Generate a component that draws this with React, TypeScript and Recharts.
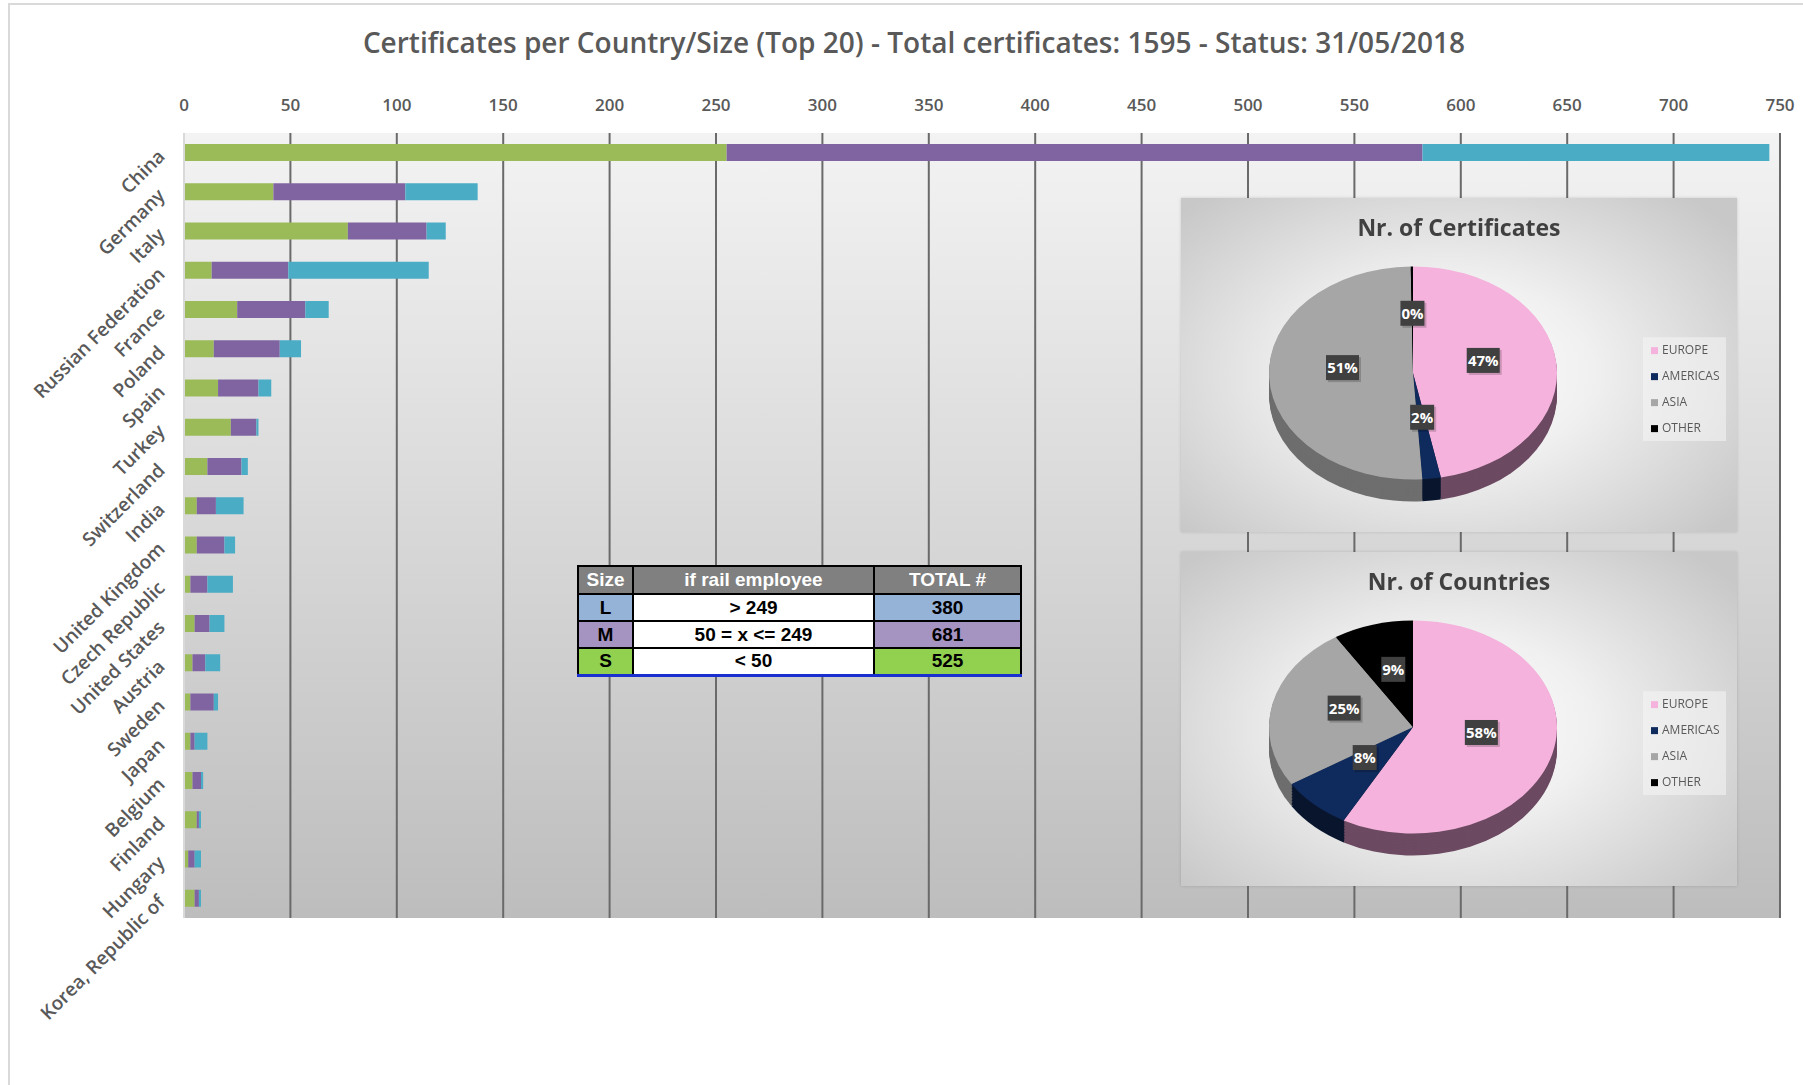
import React from 'react';
import { BarChart, Bar, XAxis, YAxis, CartesianGrid, PieChart, Pie, Cell, Legend } from 'recharts';

// ---------- data ----------
const countries = ['China', 'Germany', 'Italy', 'Russian Federation', 'France', 'Poland', 'Spain', 'Turkey', 'Switzerland', 'India', 'United Kingdom', 'Czech Republic', 'United States', 'Austria', 'Sweden', 'Japan', 'Belgium', 'Finland', 'Hungary', 'Korea, Republic of'];
const sizeS = [255, 42, 77, 13, 25, 14, 16, 22, 11, 6, 6, 3, 5, 4, 3, 3, 4, 6, 2, 5];
const sizeM = [327, 62, 37, 36, 32, 31, 19, 12, 16, 9, 13, 8, 7, 6, 11, 2, 4, 1, 3, 2];
const sizeL = [163, 34, 9, 66, 11, 10, 6, 1, 3, 13, 5, 12, 7, 7, 2, 6, 1, 1, 3, 1];
const xTicks = [0, 50, 100, 150, 200, 250, 300, 350, 400, 450, 500, 550, 600, 650, 700, 750];

const tableSizes = ['L', 'M', 'S'];
const tableRules = ['> 249', '50 = x <= 249', '< 50'];
const tableTotals = [380, 681, 525];

const regions = ['EUROPE', 'AMERICAS', 'ASIA', 'OTHER'];
const certificatesByRegion = [748, 33, 810, 4];
const countriesByRegion = [58, 8, 25, 9];

const TITLE = 'Certificates per Country/Size (Top 20) - Total certificates: 1595 - Status: 31/05/2018';

// ---------- styles ----------
const FONT = '"Open Sans", "DejaVu Sans", sans-serif';
const GREEN = '#9BBB59';
const PURPLE = '#8064A2';
const BLUE = '#4BACC6';
const REGION_TOP = ['#F4B2DC', '#0F2A5C', '#A6A6A6', '#000000'];
const REGION_SIDE = ['#6C4A62', '#09162E', '#6E6E6E', '#000000'];

const chartData = countries.map((name, i) => ({ name, S: sizeS[i], M: sizeM[i], L: sizeL[i] }));

const XTick = (props: any) => {
  const { x, payload } = props;
  return (
    <text x={x} y={111} textAnchor="middle" fontSize={17} fontWeight={600} fill="#595959" fontFamily={FONT}>
      {payload.value}
    </text>
  );
};

const YTick = (props: any) => {
  const { y, payload } = props;
  const ax = 166;
  const ay = y + 5;
  return (
    <text x={ax} y={ay} transform={`rotate(-45 ${ax} ${ay})`} textAnchor="end" fontSize={19} fontWeight={600} fill="#595959" fontFamily={FONT}>
      {payload.value}
    </text>
  );
};

const K = 0.74;
const RAD = Math.PI / 180;

const renderPieLabel = (p: any) => {
  const r = p.outerRadius * 0.49;
  const x = p.cx + r * Math.cos(-p.midAngle * RAD);
  const y = p.cy + r * Math.sin(-p.midAngle * RAD) - 8 / K;
  const txt = `${Math.round(p.percent * 100)}%`;
  const w = txt.length * 9 + 6;
  return (
    <g transform={`translate(${x},${y}) scale(1,${1 / K})`}>
      <rect x={-w / 2 + 2} y={-12 + 2} width={w} height={25} fill="rgba(0,0,0,0.18)" />
      <rect x={-w / 2} y={-12} width={w} height={25} fill="#404040" />
      <text x={0} y={0.5} dy="0.36em" textAnchor="middle" fill="#ffffff" fontSize={15} fontWeight={700} fontFamily={FONT}>
        {txt}
      </text>
    </g>
  );
};

const LegendBox = () => (
  <div style={{ transform: `scaleY(${1 / K})`, transformOrigin: '0 0', width: 83, height: 104, background: 'rgba(246,246,246,0.55)', fontFamily: FONT }}>
    {regions.map((name, idx) => (
      <div key={name} style={{ height: 26, display: 'flex', alignItems: 'center', paddingLeft: 8 }}>
        <span style={{ display: 'inline-block', width: 7, height: 7, background: REGION_TOP[idx], marginRight: 4 }} />
        <span style={{ fontSize: 12, color: '#595959', lineHeight: '12px' }}>{name}</span>
      </div>
    ))}
  </div>
);

function PiePanel({ top, title, values }: { top: number; title: string; values: number[] }) {
  const W = 556;
  const H = 334;
  const CH = Math.round(H / K);
  const cx = 232;
  const cy = 175 / K;
  const R = 144;
  const thick = 22 / K;
  const data = regions.map((name, i) => ({ name, value: values[i] }));
  const layers: number[] = [];
  for (let d = thick; d > 0; d -= 2) layers.push(d);
  return (
    <div
      style={{
        position: 'absolute',
        left: 1181,
        top,
        width: W,
        height: H,
        overflow: 'hidden',
        background: 'radial-gradient(ellipse 65% 70% at 48% 52%, #ffffff 0%, #f0f0f0 40%, #c8c8c8 100%)',
        boxShadow: '0 0 3px rgba(0,0,0,0.15)',
      }}
    >
      <div style={{ position: 'absolute', left: 0, top: 0, width: W, height: CH, transform: `scaleY(${K})`, transformOrigin: '0 0' }}>
        <PieChart width={W} height={CH} margin={{ top: 0, right: 0, bottom: 0, left: 0 }}>
          {layers.map((d) => (
            <Pie
              key={`side${d}`}
              data={data}
              dataKey="value"
              nameKey="name"
              cx={cx}
              cy={cy + d}
              outerRadius={R}
              startAngle={90}
              endAngle={-270}
              stroke="none"
              legendType="none"
              isAnimationActive={false}
            >
              {data.map((e, i) => (
                <Cell key={e.name} fill={REGION_SIDE[i]} />
              ))}
            </Pie>
          ))}
          <Pie
            data={data}
            dataKey="value"
            nameKey="name"
            cx={cx}
            cy={cy}
            outerRadius={R}
            startAngle={90}
            endAngle={-270}
            stroke="none"
            label={renderPieLabel}
            labelLine={false}
            legendType="square"
            isAnimationActive={false}
          >
            {data.map((e, i) => (
              <Cell key={e.name} fill={REGION_TOP[i]} />
            ))}
          </Pie>
          <Legend
            layout="vertical"
            align="right"
            verticalAlign="top"
            content={LegendBox}
            wrapperStyle={{ left: 462, top: 139 / K, right: 'auto', bottom: 'auto', width: 83 }}
          />
        </PieChart>
      </div>
      <div
        style={{
          position: 'absolute',
          left: 0,
          top: 14,
          width: W,
          textAlign: 'center',
          fontFamily: FONT,
          fontWeight: 700,
          fontSize: 23,
          lineHeight: '30px',
          color: '#404040',
        }}
      >
        {title}
      </div>
    </div>
  );
}

const cellBase: React.CSSProperties = {
  border: '2px solid #000',
  textAlign: 'center',
  padding: 0,
};
const rowBg = ['#95B3D7', '#A593C2', '#92D050'];

export default function App() {
  return (
    <div style={{ position: 'absolute', left: 0, top: 0, width: 1803, height: 1085, background: '#fff', overflow: 'hidden' }}>
      <div style={{ position: 'absolute', left: 8, top: 3, width: 1810, height: 1100, border: '2px solid #d9d9d9', boxSizing: 'border-box' }} />
      <div
        style={{
          position: 'absolute',
          left: 0,
          top: 24,
          width: 1828,
          textAlign: 'center',
          fontFamily: FONT,
          fontWeight: 600,
          fontSize: 28,
          lineHeight: '36px',
          color: '#595959',
          whiteSpace: 'nowrap',
        }}
      >
        {TITLE}
      </div>
      <div style={{ position: 'absolute', left: 0, top: 0 }}>
        <BarChart
          width={1803}
          height={1085}
          data={chartData}
          layout="vertical"
          margin={{ top: 103, right: 23, bottom: 167, left: 0 }}
          barSize={17}
        >
          <defs>
            <linearGradient id="plotGrad" x1="0" y1="0" x2="0" y2="1">
              <stop offset="0%" stopColor="#f3f3f3" />
              <stop offset="100%" stopColor="#bdbdbd" />
            </linearGradient>
          </defs>
          <CartesianGrid horizontal={false} vertical={true} stroke="#6a6a6a" strokeWidth={2} fill="url(#plotGrad)" />
          <XAxis
            type="number"
            orientation="top"
            domain={[0, 750]}
            ticks={xTicks}
            height={30}
            axisLine={false}
            tickLine={false}
            tick={<XTick />}
            interval={0}
          />
          <YAxis
            type="category"
            dataKey="name"
            width={184}
            axisLine={{ stroke: '#d9d9d9', strokeWidth: 2 }}
            tickLine={false}
            tick={<YTick />}
            interval={0}
          />
          <Bar dataKey="S" stackId="a" fill={GREEN} isAnimationActive={false} />
          <Bar dataKey="M" stackId="a" fill={PURPLE} isAnimationActive={false} />
          <Bar dataKey="L" stackId="a" fill={BLUE} isAnimationActive={false} />
        </BarChart>
      </div>

      <table
        style={{
          position: 'absolute',
          left: 577,
          top: 565,
          width: 443,
          borderCollapse: 'collapse',
          fontFamily: '"Liberation Sans", Arial, sans-serif',
          fontWeight: 700,
          fontSize: 19,
          tableLayout: 'fixed',
          borderBottom: '3px solid #1a2fd0',
          borderLeft: '2px solid #1a2fd0',
        }}
      >
        <colgroup>
          <col style={{ width: 55 }} />
          <col style={{ width: 241 }} />
          <col style={{ width: 147 }} />
        </colgroup>
        <tbody>
          <tr style={{ height: 28, background: '#808080', color: '#fff' }}>
            <td style={cellBase}>Size</td>
            <td style={cellBase}>if rail employee</td>
            <td style={cellBase}>TOTAL #</td>
          </tr>
          {tableSizes.map((s, i) => (
            <tr key={s} style={{ height: 27, color: '#000' }}>
              <td style={{ ...cellBase, background: rowBg[i] }}>{s}</td>
              <td style={{ ...cellBase, background: '#fff' }}>{tableRules[i]}</td>
              <td style={{ ...cellBase, background: rowBg[i] }}>{tableTotals[i]}</td>
            </tr>
          ))}
        </tbody>
      </table>

      <PiePanel top={198} title="Nr. of Certificates" values={certificatesByRegion} />
      <PiePanel top={552} title="Nr. of Countries" values={countriesByRegion} />
    </div>
  );
}
